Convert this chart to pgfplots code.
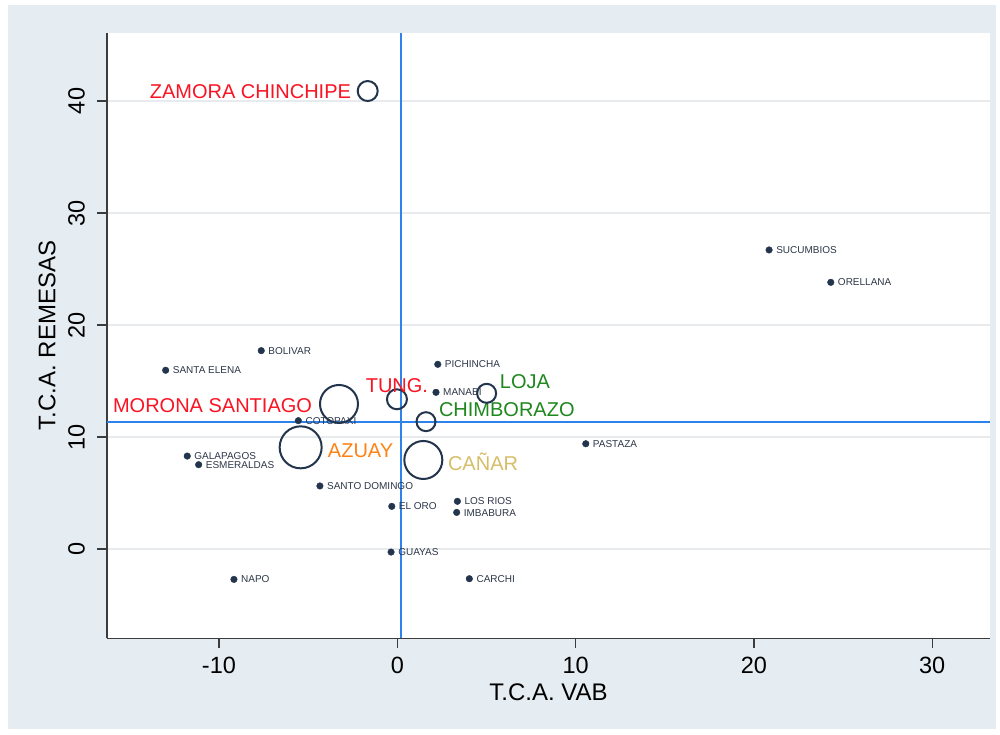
\documentclass[border=0pt]{standalone}
\usepackage{fontspec}
\setmainfont{Liberation Sans}
\usepackage{pgfplots}
\pgfplotsset{compat=1.18}

\definecolor{bgc}{RGB}{230,237,242}
\definecolor{navy}{RGB}{35,52,77}
\definecolor{lbl}{RGB}{45,55,72}
\definecolor{refblue}{RGB}{45,130,235}
\definecolor{gridc}{RGB}{232,235,238}
\definecolor{axc}{RGB}{60,60,60}
\definecolor{lred}{RGB}{250,20,35}
\definecolor{lgreen}{RGB}{30,135,30}
\definecolor{lorange}{RGB}{255,130,20}
\definecolor{lkhaki}{RGB}{214,190,105}

\pgfplotsset{
  dots/.style={only marks, mark=*, mark size=3.3pt,
    mark options={draw=navy, fill=navy},
    nodes near coords, point meta=explicit symbolic,
    every node near coord/.append style={font=\fontsize{10}{12}\selectfont,
      text=lbl, anchor=west, inner sep=0pt, xshift=7pt,
      text height=7.2pt, text depth=0pt}},
  bubble/.style n args={4}{only marks, mark=o, mark size=#1,
    mark options={draw=navy, line width=2pt},
    nodes near coords, point meta=explicit symbolic,
    every node near coord/.append style={font=\fontsize{20}{24}\selectfont,
      text=#2, anchor=#3, inner sep=0pt, text height=14.5pt, text depth=0pt, #4}},
}

\begin{document}
\begin{tikzpicture}
% page and Stata-like outer background
\fill[white] (-107pt,-95.7pt) rectangle (893pt,638.3pt);
\fill[bgc] (-99pt,-90.7pt) rectangle (889pt,633.3pt);

\begin{axis}[
  at={(0pt,0pt)}, anchor=south west,
  scale only axis, width=883pt, height=605.3pt,
  xmin=-16.28, xmax=33.24, ymin=-7.97, ymax=46.07,
  axis background/.style={fill=white},
  axis lines=left,
  axis line style={-, draw=axc, line width=1.3pt},
  xtick={-10,0,10,20,30}, xticklabels={-10,0,10,20,30},
  ytick={0,10,20,30,40}, yticklabels={0,10,20,30,40},
  tick align=outside, major tick length=9.5pt,
  tick style={draw=axc, line width=1.3pt},
  ymajorgrids, grid style={draw=gridc, line width=1.5pt},
  ticklabel style={font=\fontsize{23.5}{28}\selectfont, inner sep=0pt},
  xticklabel style={anchor=north},
  yticklabel style={rotate=90, anchor=south},
  xticklabel shift=8.7pt, yticklabel shift=12.5pt,
  xlabel={T.C.A. VAB}, ylabel={T.C.A. REMESAS},
  label style={font=\fontsize{24}{28}\selectfont, inner sep=0pt},
  xlabel style={at={(rel axis cs:0.5,0)}, anchor=center, yshift=-53.7pt},
  ylabel style={at={(rel axis cs:0,0.5)}, anchor=center, yshift=60pt},
]

% provinces without a special marker
\addplot[dots] coordinates {
  (20.85,26.70) [SUCUMBIOS]
  (24.31,23.81) [ORELLANA]
  (-7.63,17.71) [BOLIVAR]
  (-12.99,15.96) [SANTA ELENA]
  (2.27,16.49) [PICHINCHA]
  (2.17,13.99) [MANABI]
  (-5.55,11.46) [COTOPAXI]
  (-11.78,8.30) [GALAPAGOS]
  (-11.14,7.53) [ESMERALDAS]
  (-4.34,5.63) [SANTO DOMINGO]
  (-0.31,3.81) [EL ORO]
  (3.37,4.26) [LOS RIOS]
  (3.33,3.27) [IMBABURA]
  (-0.35,-0.27) [GUAYAS]
  (-9.16,-2.71) [NAPO]
  (4.04,-2.65) [CARCHI]
  (10.57,9.40) [PASTAZA]
};

% southern provinces, weighted circles
\addplot[bubble={10pt}{lred}{east}{xshift=-15.7pt}]
  coordinates {(-1.66,40.89) [ZAMORA CHINCHIPE]};
\addplot[bubble={19pt}{lred}{east}{xshift=-26pt, yshift=-1pt}]
  coordinates {(-3.27,12.95) [MORONA SANTIAGO]};
\addplot[bubble={21pt}{lorange}{west}{xshift=26.3pt, yshift=-3.4pt}]
  coordinates {(-5.42,9.08) [AZUAY]};
\addplot[bubble={10pt}{lred}{center}{yshift=14.3pt}]
  coordinates {(-0.02,13.37) [TUNG.]};
\addplot[bubble={9.5pt}{lgreen}{west}{xshift=12pt, yshift=12.7pt}]
  coordinates {(1.61,11.37) [CHIMBORAZO]};
\addplot[bubble={19pt}{lkhaki}{west}{xshift=23.7pt, yshift=-3pt}]
  coordinates {(1.46,7.95) [CAÑAR]};
\addplot[bubble={9.5pt}{lgreen}{west}{xshift=12.3pt, yshift=12.3pt}]
  coordinates {(5.01,13.90) [LOJA]};

% reference lines at the means
\addplot[refblue, line width=2pt, forget plot] coordinates {(0.21,-7.97) (0.21,46.07)};
\addplot[refblue, line width=2pt, forget plot] coordinates {(-16.28,11.35) (33.24,11.35)};
\end{axis}
\end{tikzpicture}
\end{document}
